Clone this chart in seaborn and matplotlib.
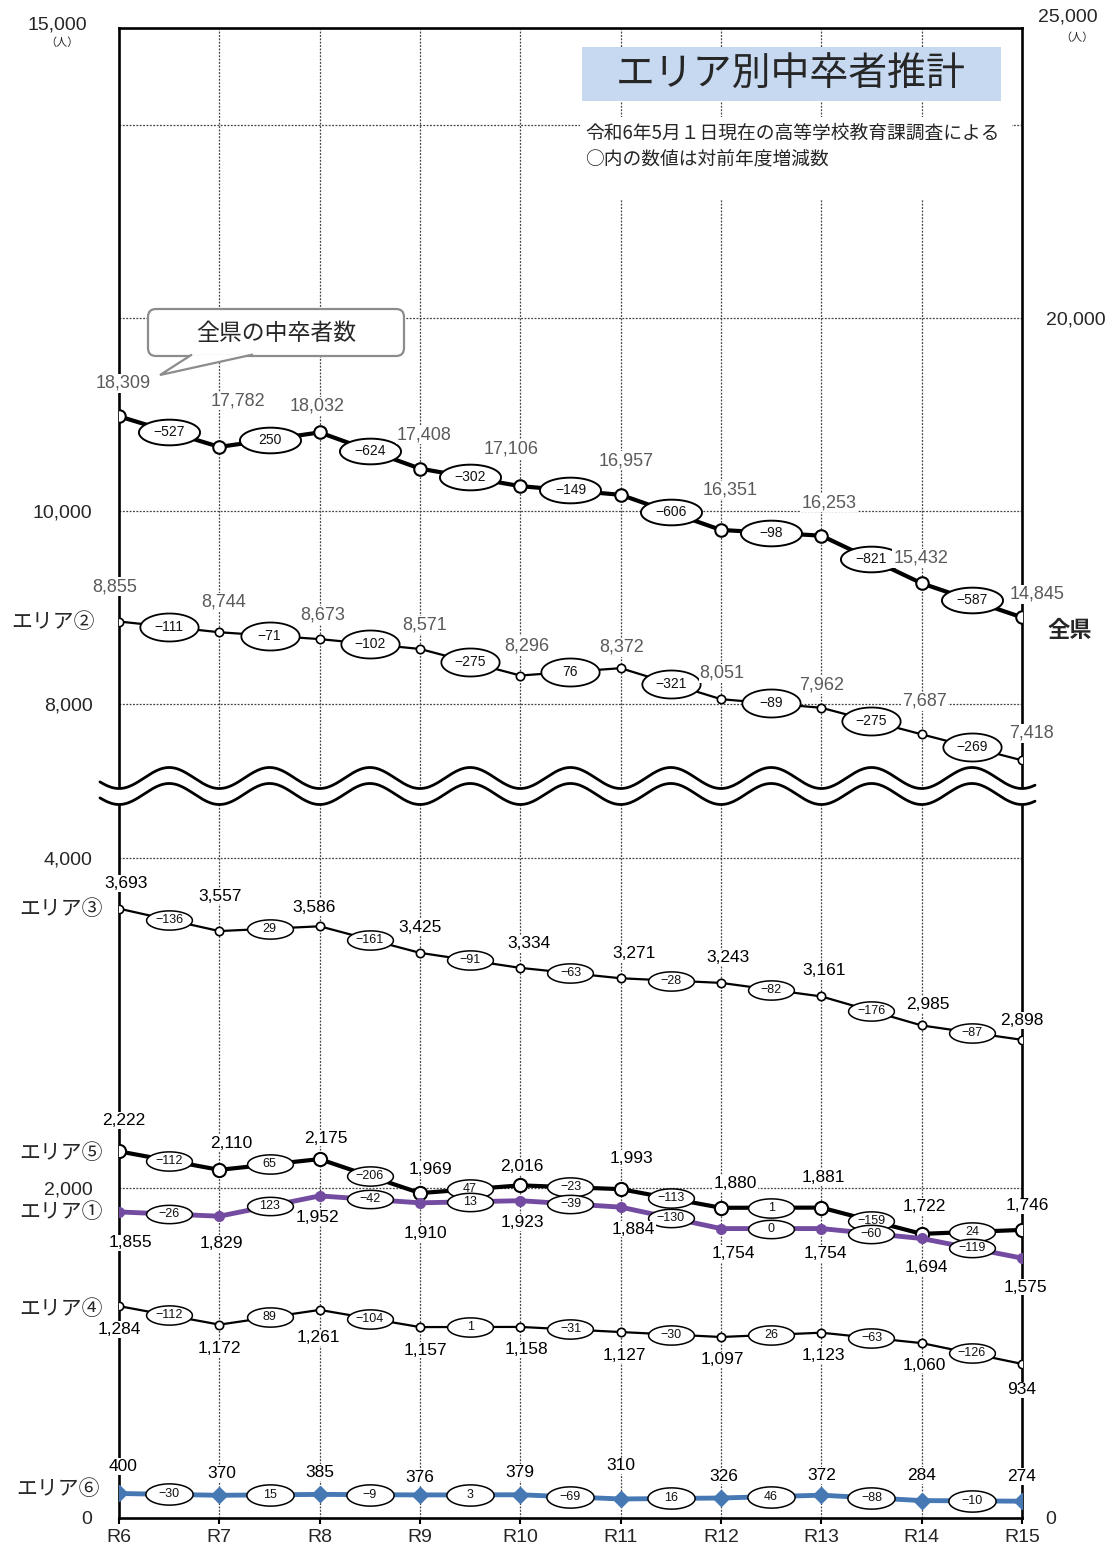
import numpy as np
import matplotlib
matplotlib.use('Agg')
import matplotlib.pyplot as plt
import seaborn as sns
from matplotlib.path import Path
from matplotlib.patches import Rectangle, FancyBboxPatch, Polygon
from matplotlib import transforms

# ---- data ----
years = ['R6', 'R7', 'R8', 'R9', 'R10', 'R11', 'R12', 'R13', 'R14', 'R15']
zenken = [18309, 17782, 18032, 17408, 17106, 16957, 16351, 16253, 15432, 14845]
area2 = [8855, 8744, 8673, 8571, 8296, 8372, 8051, 7962, 7687, 7418]
area3 = [3693, 3557, 3586, 3425, 3334, 3271, 3243, 3161, 2985, 2898]
area5 = [2222, 2110, 2175, 1969, 2016, 1993, 1880, 1881, 1722, 1746]
area1 = [1855, 1829, 1952, 1910, 1923, 1884, 1754, 1754, 1694, 1575]
area4 = [1284, 1172, 1261, 1157, 1158, 1127, 1097, 1123, 1060, 934]
area6 = [400, 370, 385, 376, 379, 310, 326, 372, 284, 274]

left_ticks = [0, 2000, 4000, 8000, 10000]
right_ticks = [0, 20000]
grid_vals = [2000, 4000, 8000, 10000, 12000, 14000]

# label offsets (pixels, right / down) for the value labels
zenken_off = [(4, -33), (19, -46), (-3, -26), (4, -34), (-9, -37), (5, -34), (9, -40), (8, -33), (-1, -25), (15, -23)]
area2_off = [(-4, -35), (4, -30), (3, -24), (5, -24), (6, -30), (1, -21), (1, -26), (0, -23), (3, -33), (10, -27)]
area3_off = [(7, -25), (1, -35), (-6, -19), (0, -25), (9, -24), (13, -25), (7, -25), (3, -26), (6, -21), (0, -19)]
area5_off = [(5, -31), (12, -26), (6, -21), (10, -24), (1, -19), (11, -31), (14, -24), (2, -30), (3, -27), (5, -24)]
area1_off = [(11, 31), (2, 27), (-2, 22), (5, 31), (2, 22), (13, 22), (12, 25), (4, 25), (5, 29), (3, 29)]
area4_off = [(0, 23), (0, 24), (-1, 28), (5, 23), (6, 23), (4, 23), (1, 23), (2, 23), (3, 22), (0, 26)]
area6_off = [(4, -27), (2, -22), (0, -22), (0, -17), (0, -22), (0, -33), (3, -22), (0, -20), (0, -25), (0, -25)]

W, H = 1114, 1551
sns.set_theme(style='white')
plt.rcParams['font.family'] = ['Liberation Sans', 'Noto Sans CJK JP', 'DejaVu Sans']
JP = ['Noto Sans CJK JP', 'DejaVu Sans']

fig = plt.figure(figsize=(W / 100, H / 100), dpi=100)
rect = [119 / W, 1 - 1518 / H, (1022 - 119) / W, (1518 - 28) / H]
# pixel coords measured from the top-left of the picture
pxT = transforms.Affine2D().scale(1, -1).translate(0, H).scale(1 / fig.dpi) + fig.dpi_scale_trans

ax_base = fig.add_axes(rect)
ax_r = fig.add_axes(rect, sharex=ax_base)
ax_top = fig.add_axes(rect, sharex=ax_base)
ax_base.set_zorder(0)
ax_r.set_zorder(1)
ax_top.set_zorder(2)
for a in (ax_r, ax_top):
    a.patch.set_visible(False)
    for s in a.spines.values():
        s.set_visible(False)


def broken(v, p):
    return (lambda a: np.interp(a, v, p), lambda a: np.interp(a, p, v))


left_scale = broken([0, 4412, 7121, 15000], [0, 728, 729, 1490])
right_scale = broken([0, 11862, 25000], [0, 727.5, 1490])


def ellipse_marker(k):
    t = np.linspace(0, 2 * np.pi, 73)
    return Path(np.column_stack([np.cos(t), k * np.sin(t)]))


def fmt_diff(d):
    return '\u2212' + str(-d) if d < 0 else str(d)


def draw_series(ax, vals, offs, line_kw, lbl_color, lbl_fs, e_ms, e_k, e_fs, e_mew):
    vals = np.asarray(vals, dtype=float)
    x = np.arange(len(vals))
    sns.lineplot(x=x, y=vals, ax=ax, errorbar=None, zorder=3, **line_kw)
    mx = x[:-1] + 0.5
    my = (vals[:-1] + vals[1:]) / 2
    ax.plot(mx, my, ls='none', marker=ellipse_marker(e_k), ms=e_ms,
            mfc='white', mec='black', mew=e_mew, zorder=4)
    for xx, yy, d in zip(mx, my, np.diff(vals).astype(int)):
        ax.text(xx, yy, fmt_diff(d), ha='center', va='center', fontsize=e_fs,
                color='#111111', zorder=5)
    for i, (v, (dx, dy)) in enumerate(zip(vals, offs)):
        ax.annotate(f'{int(v):,}', (i, v), xytext=(dx, -dy), textcoords='offset pixels',
                    ha='center', va='center', fontsize=lbl_fs, color=lbl_color,
                    zorder=6, annotation_clip=False,
                    bbox=dict(boxstyle='square,pad=0.05', fc='white', ec='none'))


thick_white = dict(color='black', linewidth=3, marker='o', markersize=9,
                   markerfacecolor='white', markeredgecolor='black', markeredgewidth=1.5)
thin_white = dict(color='black', linewidth=1.6, marker='o', markersize=6,
                  markerfacecolor='white', markeredgecolor='black', markeredgewidth=1.2)

draw_series(ax_r, zenken, zenken_off, thick_white, '#5a5a5a', 13, 44, 0.42, 10, 1.4)
draw_series(ax_top, area2, area2_off, thin_white, '#5a5a5a', 13, 42, 0.48, 10, 1.3)
draw_series(ax_top, area3, area3_off, thin_white, 'black', 12.5, 33, 0.42, 9, 1.1)
draw_series(ax_top, area5, area5_off, dict(thick_white, markersize=9.5), 'black', 12.5, 33, 0.42, 9, 1.1)
draw_series(ax_top, area1, area1_off,
            dict(color='#734ba0', linewidth=3.5, marker='o', markersize=7,
                 markerfacecolor='#734ba0', markeredgecolor='#734ba0', markeredgewidth=1),
            'black', 12.5, 33, 0.40, 9, 1.1)
draw_series(ax_top, area4, area4_off, thin_white, 'black', 12.5, 33, 0.42, 9, 1.1)
draw_series(ax_r, area6, area6_off,
            dict(color='#4678b4', linewidth=3.5, marker='D', markersize=8,
                 markerfacecolor='#4678b4', markeredgecolor='#4678b4', markeredgewidth=1),
            'black', 12.5, 34, 0.45, 9, 1.1)

# series names
names = [('エリア②', area2, -24, 0), ('エリア③', area3, -16, 0), ('エリア⑤', area5, -16, 2),
         ('エリア①', area1, -16, 0), ('エリア④', area4, -16, 3)]
for name, vals, dx, dy in names:
    ax_top.annotate(name, (0, vals[0]), xytext=(dx, -dy), textcoords='offset pixels',
                    ha='right', va='center', fontsize=15, family=JP, annotation_clip=False)
ax_r.annotate('エリア⑥', (0, area6[0]), xytext=(-19, 4), textcoords='offset pixels',
              ha='right', va='center', fontsize=15, family=JP, annotation_clip=False)
ax_r.annotate('全県', (9, zenken[-1]), xytext=(26, -13), textcoords='offset pixels',
              ha='left', va='center', fontsize=16, fontweight='bold', family=JP,
              annotation_clip=False)

# scales and axes
for a in (ax_base, ax_top):
    a.set_yscale('function', functions=left_scale)
    a.set_ylim(0, 15000)
ax_r.set_yscale('function', functions=right_scale)
ax_r.set_ylim(0, 25000)
ax_base.set_xlim(0, 9)

ax_base.set_xticks(range(len(years)))
ax_base.set_xticklabels(years, fontsize=14)
ax_base.tick_params(axis='x', bottom=True, length=4, width=1.5, pad=4, color='black')
ax_base.set_yticks(left_ticks)
ax_base.set_yticklabels([f'{v:,}' for v in left_ticks], fontsize=14)
ax_base.tick_params(axis='y', left=False, length=0, pad=19)
ax_base.yaxis.set_minor_locator(matplotlib.ticker.NullLocator())

ax_r.yaxis.tick_right()
ax_r.set_yticks(right_ticks)
ax_r.set_yticklabels([f'{v:,}' for v in right_ticks], fontsize=14)
ax_r.tick_params(axis='y', right=False, length=0, pad=17)
ax_r.tick_params(axis='x', bottom=False, labelbottom=False)
ax_r.yaxis.set_minor_locator(matplotlib.ticker.NullLocator())
ax_top.tick_params(left=False, labelleft=False, bottom=False, labelbottom=False)
ax_top.yaxis.set_minor_locator(matplotlib.ticker.NullLocator())
ax_top.set_ylabel('')
ax_r.set_ylabel('')
ax_base.set_xlabel('')

for s in ax_base.spines.values():
    s.set_visible(True)
    s.set_color('black')
    s.set_linewidth(1.9)

for v in grid_vals:
    ax_base.axhline(v, color='#444444', lw=0.9, ls=(0, (1.5, 1.2)), zorder=1)
for i in range(1, len(years) - 1):
    ax_base.axvline(i, color='#444444', lw=0.9, ls=(0, (1.5, 1.2)), zorder=1)

# axis break (wave)
trw = transforms.blended_transform_factory(ax_top.transData, pxT)
xw = np.linspace(-0.19, 9.13, 500)
up = 778 + 10.5 * np.cos(2 * np.pi * xw)
low = 794 + 10.5 * np.cos(2 * np.pi * xw)
ax_top.fill(np.r_[xw, xw[::-1]], np.r_[up, low[::-1]], color='white', transform=trw,
            zorder=10, clip_on=False)
ax_top.plot(xw, up, color='black', lw=2, transform=trw, zorder=11, clip_on=False)
ax_top.plot(xw, low, color='black', lw=2, transform=trw, zorder=11, clip_on=False)
ax_base.set_xlim(0, 9)

# extra axis texts
fig.text(57 / W, 1 - 25 / H, '15,000', ha='center', va='center', fontsize=14)
fig.text(62 / W, 1 - 43 / H, '（人）', ha='center', va='center', fontsize=8, family=JP)
fig.text(1068 / W, 1 - 17 / H, '25,000', ha='center', va='center', fontsize=14)
fig.text(1077 / W, 1 - 38 / H, '（人）', ha='center', va='center', fontsize=8, family=JP)

# title block
fig.add_artist(Rectangle((582, 47), 419, 54, transform=pxT, facecolor='#c6d9f1',
                         edgecolor='none', zorder=5))
fig.text(791 / W, 1 - 74 / H, 'エリア別中卒者推計', ha='center', va='center', fontsize=28,
         family=JP, zorder=6)
fig.add_artist(Rectangle((580, 117), 432, 83, transform=pxT, facecolor='white',
                         edgecolor='none', zorder=5))
fig.text(585 / W, 1 - 133 / H, '令和6年5月１日現在の高等学校教育課調査による', ha='left',
         va='center', fontsize=13.5, family=JP, zorder=6)
fig.text(585 / W, 1 - 159 / H, '○内の数値は対前年度増減数', ha='left', va='center',
         fontsize=13.5, family=JP, zorder=6)

# callout
fig.add_artist(FancyBboxPatch((148, 309), 256, 47, boxstyle='round,pad=0,rounding_size=8',
                              transform=pxT, facecolor='white', edgecolor='#8c8c8c',
                              lw=1.6, zorder=5))
fig.add_artist(Polygon([(192, 354.5), (160, 375), (253, 354.5)], closed=False, transform=pxT,
                       facecolor='white', edgecolor='#8c8c8c', lw=1.6, zorder=6))
fig.text(276 / W, 1 - 333 / H, '全県の中卒者数', ha='center', va='center', fontsize=16.5,
         family=JP, zorder=7)

fig.savefig('out.png', dpi=100)
